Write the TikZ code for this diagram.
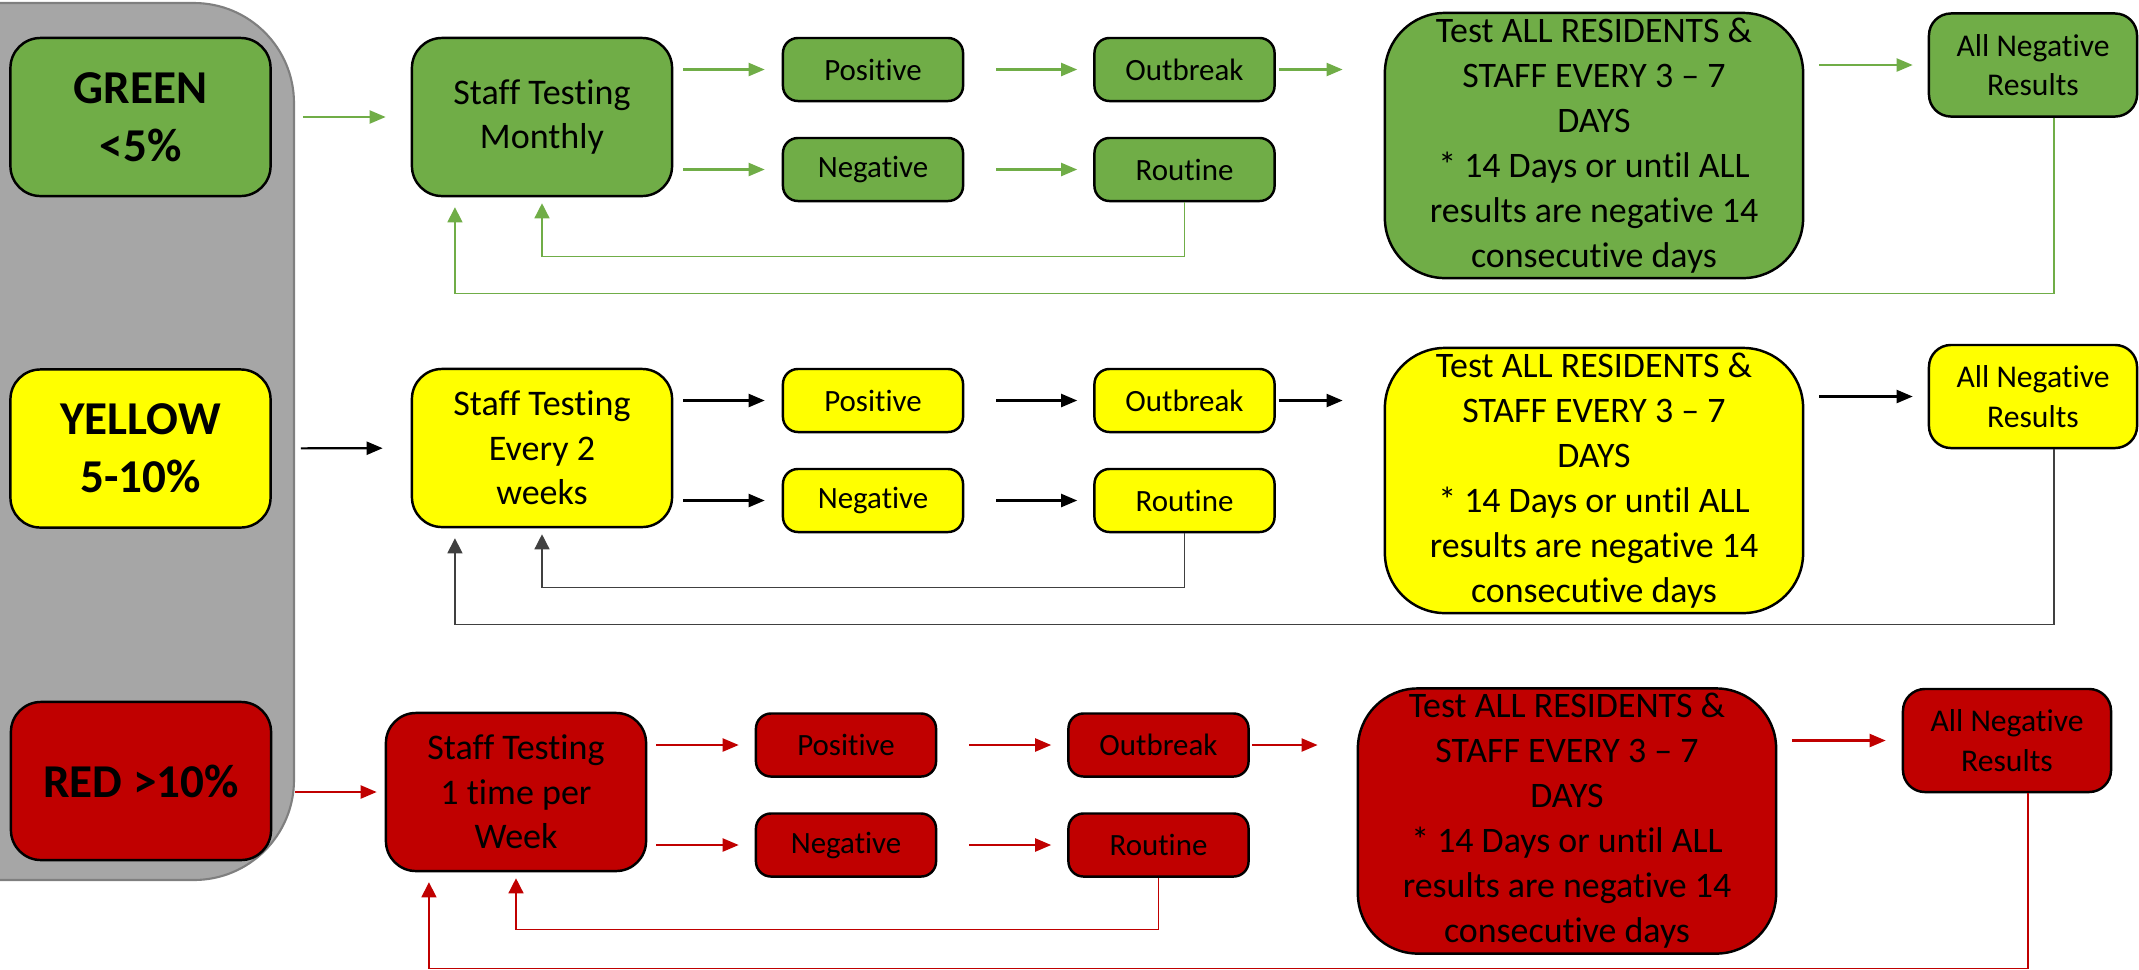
\documentclass[tikz,border=0pt]{standalone}
\usepackage{fontspec}
\setmainfont{Carlito}[Ligatures={TeX,NoCommon}]
\usetikzlibrary{arrows.meta}

\definecolor{lgreen}{HTML}{70AD47}
\definecolor{lyellow}{HTML}{FFFF00}
\definecolor{lred}{HTML}{C00000}
\definecolor{panelfill}{HTML}{A6A6A6}
\definecolor{panelline}{HTML}{7F7F7F}

\begin{document}
\begin{tikzpicture}[x=0.01cm, y=-0.01cm,
	box/.style={draw, line width=0.7pt, align=center, inner sep=0pt, rounded corners=0.3cm, minimum width=2.6cm, minimum height=1.58cm},
	band/.style={box, font=\fontsize{13.4}{16.5}\selectfont\bfseries},
	staff/.style={box, font=\fontsize{10.25}{12.6}\selectfont},
	pill/.style={box, rounded corners=0.15cm, minimum width=1.8cm, minimum height=0.63cm, font=\fontsize{8.8}{10.5}\selectfont},
	test/.style={box, rounded corners=0.6cm, minimum width=4.18cm, minimum height=2.65cm, font=\fontsize{10.2}{12.8}\selectfont},
	res/.style={box, rounded corners=0.22cm, minimum width=2.08cm, minimum height=1.03cm, font=\fontsize{9}{11.2}\selectfont},
	arr/.style={line width=0.6pt, -{Triangle[length=1.6mm, width=1.3mm]}},
	back/.style={line width=0.4pt, -{Triangle[length=1.5mm, width=1.5mm]}}]
				\useasboundingbox (0,0) rectangle (2139,969);
				\draw[draw=panelline, fill=panelfill, line width=0.6pt, rounded corners=1cm] (-150,3) rectangle (294,880);
				
				% green
				\node[band, fill=lgreen] (G) at (140.5,117) {GREEN\\<5\%};
				\node[staff, fill=lgreen] (GS) at (542,117) {Staff Testing\\Monthly};
				\node[pill, fill=lgreen] (GP) at (873,69.5) {Positive};
				\node[pill, fill=lgreen] (GN) at (873,169.5) {Negative};
				\node[pill, fill=lgreen] (GO) at (1184.5,69.5) {Outbreak};
				\node[pill, fill=lgreen] (GR) at (1184.5,169.5) {Routine};
				\node[test, fill=lgreen] (GT) at (1594,145.5) {Test ALL RESIDENTS \&\\STAFF EVERY 3 -- 7\\DAYS\\* 14 Days or until ALL\\results are negative 14\\consecutive days};
				\node[res, fill=lgreen] (GA) at (2033,65) {All Negative\\Results};
				
				\draw[arr, lgreen, shorten <=0.31cm, shorten >=0.25cm] (G) -- (GS);
				\draw[arr, lgreen, shorten <=0.1cm, shorten >=0.17cm] (GS.east |- GP) -- (GP);
				\draw[arr, lgreen, shorten <=0.1cm, shorten >=0.17cm] (GS.east |- GN) -- (GN);
				\draw[arr, lgreen, shorten <=0.32cm, shorten >=0.16cm] (GP) -- (GO);
				\draw[arr, lgreen, shorten <=0.32cm, shorten >=0.16cm] (GN) -- (GR);
				\draw[arr, lgreen, shorten <=0.03cm, shorten >=0.41cm] (GO.east) -- (GO.east -| GT.west);
				\draw[arr, lgreen, shorten <=0.15cm, shorten >=0.15cm] (GT.east |- GA) -- (GA);
				\draw[back, lgreen, shorten >=0.06cm] (GR.south) -- ++(0,54) -| (GS.south);
				\draw[back, lgreen, shorten >=0.1cm] ([xshift=0.21cm]GA.south) -- ++(0,176) -| ([xshift=-0.87cm]GS.south);
				
				% yellow
				\node[band, fill=lyellow] (Y) at (140.5,448.5) {YELLOW\\5-10\%};
				\node[staff, fill=lyellow] (YS) at (542,448) {Staff Testing\\Every 2\\weeks};
				\node[pill, fill=lyellow] (YP) at (873,400.5) {Positive};
				\node[pill, fill=lyellow] (YN) at (873,500.5) {Negative};
				\node[pill, fill=lyellow] (YO) at (1184.5,400.5) {Outbreak};
				\node[pill, fill=lyellow] (YR) at (1184.5,500.5) {Routine};
				\node[test, fill=lyellow] (YT) at (1594,480.5) {Test ALL RESIDENTS \&\\STAFF EVERY 3 -- 7\\DAYS\\* 14 Days or until ALL\\results are negative 14\\consecutive days};
				\node[res, fill=lyellow] (YA) at (2033,396.5) {All Negative\\Results};
				
				\draw[arr, shorten <=0.29cm, shorten >=0.28cm] (Y) -- (YS);
				\draw[arr, shorten <=0.1cm, shorten >=0.17cm] (YS.east |- YP) -- (YP);
				\draw[arr, shorten <=0.1cm, shorten >=0.17cm] (YS.east |- YN) -- (YN);
				\draw[arr, shorten <=0.32cm, shorten >=0.16cm] (YP) -- (YO);
				\draw[arr, shorten <=0.32cm, shorten >=0.16cm] (YN) -- (YR);
				\draw[arr, shorten <=0.03cm, shorten >=0.41cm] (YO.east) -- (YO.east -| YT.west);
				\draw[arr, shorten <=0.15cm, shorten >=0.15cm] (YT.east |- YA) -- (YA);
				\draw[back, black!75, shorten >=0.06cm] (YR.south) -- ++(0,54) -| (YS.south);
				\draw[back, black!75, shorten >=0.1cm] ([xshift=0.21cm]YA.south) -- ++(0,175) -| ([xshift=-0.87cm]YS.south);
				
				% red
				\node[band, fill=lred] (R) at (141,781) {RED >10\%};
				\node[staff, fill=lred] (RS) at (516,792) {Staff Testing\\1 time per\\Week};
				\node[pill, fill=lred] (RP) at (846,745) {Positive};
				\node[pill, fill=lred] (RN) at (846,845) {Negative};
				\node[pill, fill=lred] (RO) at (1158.5,745) {Outbreak};
				\node[pill, fill=lred] (RR) at (1158.5,845) {Routine};
				\node[test, fill=lred] (RT) at (1567,821) {Test ALL RESIDENTS \&\\STAFF EVERY 3 -- 7\\DAYS\\* 14 Days or until ALL\\results are negative 14\\consecutive days};
				\node[res, fill=lred] (RA) at (2007,740.5) {All Negative\\Results};
				
				\draw[arr, lred, shorten <=0.23cm, shorten >=0.08cm] (R.east |- RS) -- (RS);
				\draw[arr, lred, shorten <=0.09cm, shorten >=0.16cm] (RS.east |- RP) -- (RP);
				\draw[arr, lred, shorten <=0.09cm, shorten >=0.16cm] (RS.east |- RN) -- (RN);
				\draw[arr, lred, shorten <=0.32cm, shorten >=0.16cm] (RP) -- (RO);
				\draw[arr, lred, shorten <=0.32cm, shorten >=0.16cm] (RN) -- (RR);
				\draw[arr, lred, shorten <=0.02cm, shorten >=0.39cm] (RO.east) -- (RO.east -| RT.west);
				\draw[arr, lred, shorten <=0.15cm, shorten >=0.16cm] (RT.east |- RA) -- (RA);
				\draw[back, lred, shorten >=0.06cm] (RR.south) -- ++(0,52) -| (RS.south);
				\draw[back, lred, shorten >=0.1cm] ([xshift=0.21cm]RA.south) -- ++(0,175) -| ([xshift=-0.87cm]RS.south);
			\end{tikzpicture}
\end{document}
